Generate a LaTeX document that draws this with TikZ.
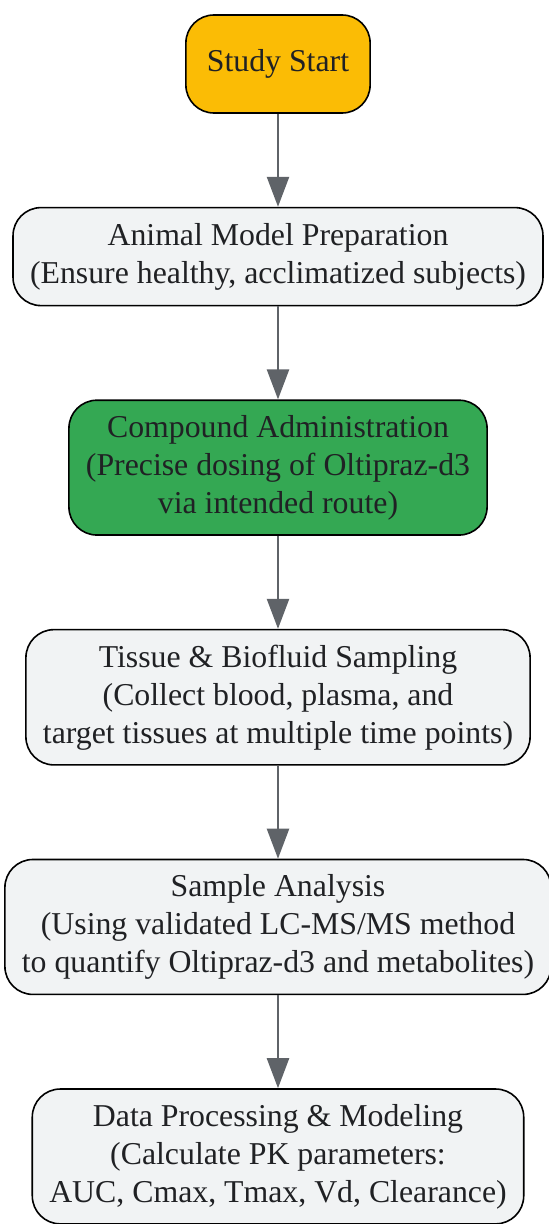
\documentclass[tikz,border=0pt]{standalone}
\usepackage{fontspec}
\setmainfont{Liberation Serif}
\usepackage{tikz}
\usetikzlibrary{shapes, arrows, calc, positioning}
\usetikzlibrary{arrows.meta}
\definecolor{startyellow}{HTML}{FBBC05}
\definecolor{stepgreen}{HTML}{34A853}
\definecolor{steplight}{HTML}{F1F3F4}
\definecolor{linegray}{HTML}{5F6368}
\definecolor{textdark}{HTML}{202124}

\begin{document}
\begin{tikzpicture}

\tikzstyle{box} = [rectangle, rounded corners=28pt, draw=black, line width=1.6pt, align=center, text=textdark, font=\fontsize{31.8}{38}\selectfont, inner xsep=17pt, inner ysep=15pt, minimum height=98pt]
\tikzstyle{start} = [box, fill=startyellow, inner xsep=21pt]
\tikzstyle{stage} = [box, fill=steplight]
\tikzstyle{dosing} = [box, fill=stepgreen]
\tikzstyle{arrow} = [line width=2.4pt, draw=linegray, -{Triangle[length=30pt, width=22pt]}]

\useasboundingbox (0pt, 0pt) rectangle (549pt, -1224pt);

% Make nodes
\node (start) [start] at (278pt, -64pt) {Study Start};
\node (animal) [stage, below=93pt of start] {Animal Model Preparation\\(Ensure healthy, acclimatized subjects)};
\node (admin) [dosing, below=93pt of animal] {Compound Administration\\(Precise dosing of Oltipraz-d3\\via intended route)};
\node (sampling) [stage, below=93pt of admin] {Tissue \& Biofluid Sampling\\(Collect blood, plasma, and\\target tissues at multiple time points)};
\node (analysis) [stage, below=93pt of sampling] {Sample Analysis\\(Using validated LC-MS/MS method\\to quantify Oltipraz-d3 and metabolites)};
\node (model) [stage, below=93pt of analysis] {Data Processing \& Modeling\\(Calculate PK parameters:\\AUC, Cmax, Tmax, Vd, Clearance)};

% Connect nodes
\draw[arrow] (start) -- (animal);
\draw[arrow] (animal) -- (admin);
\draw[arrow] (admin) -- (sampling);
\draw[arrow] (sampling) -- (analysis);
\draw[arrow] (analysis) -- (model);

\end{tikzpicture}
\end{document}
